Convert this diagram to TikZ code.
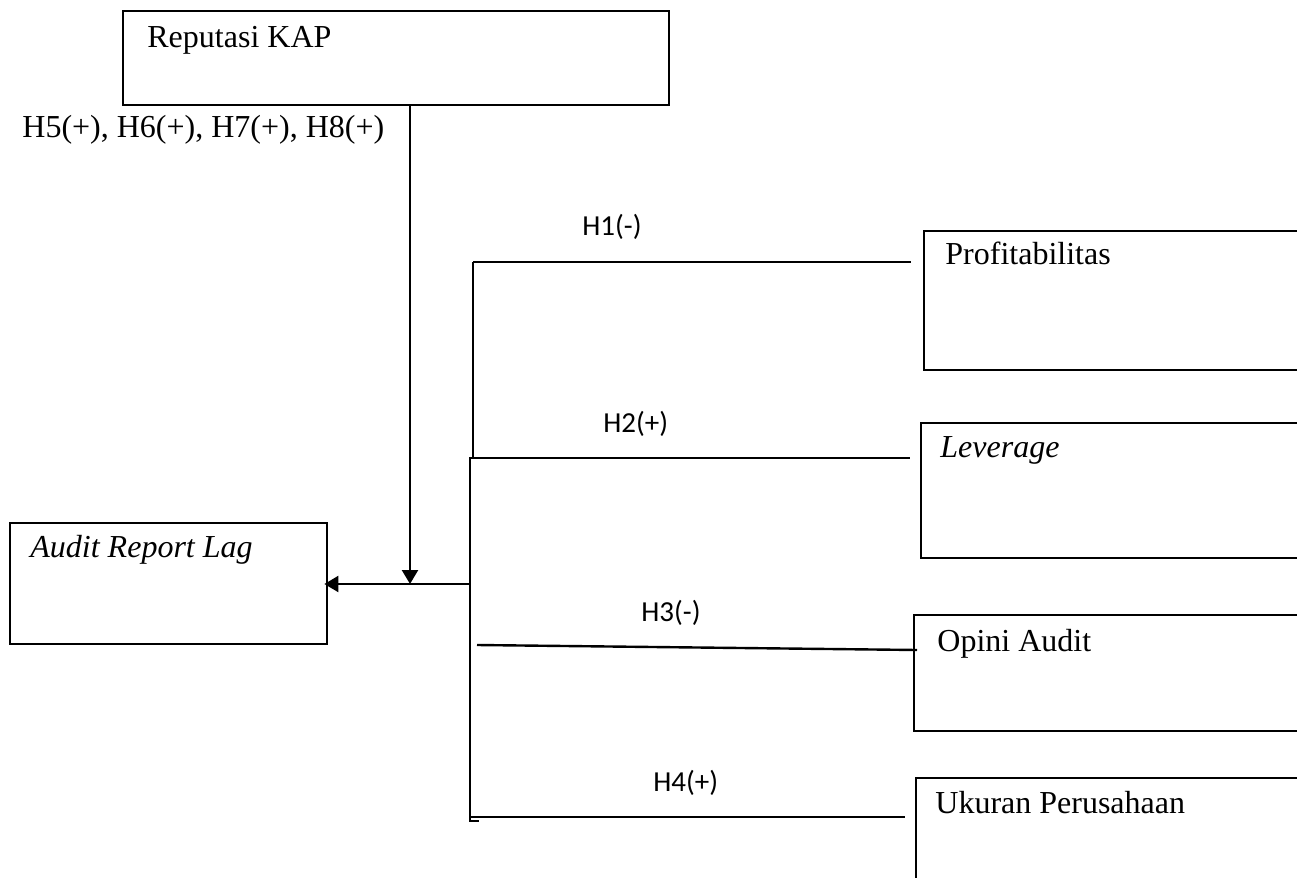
\documentclass[tikz,border=0pt]{standalone}
\usepackage{fontspec}
\setmainfont{Liberation Serif}
\newfontfamily\hipfont{Carlito}
\usetikzlibrary{arrows.meta,positioning}

\tikzset{
	kotak/.style={draw, line width=1.2pt, rectangle, anchor=north west, inner sep=0pt},
	teks/.style={anchor=base west, inner sep=0pt, font=\fontsize{16}{19}\selectfont},
	hip/.style={anchor=base west, inner sep=0pt, font=\hipfont\fontsize{14.5}{17}\selectfont},
	garis/.style={line width=1.2pt},
	panah/.style={line width=1.2pt, -{Triangle[width=8pt,length=7pt]}}
}

\begin{document}
\begin{tikzpicture}[x=0.5pt, y=-0.5pt] % 1 satuan = 1 piksel
	\useasboundingbox (0,0) rectangle (1297,878); % ukuran gambar
	\clip (0,0) rectangle (1297,878); % kotak kanan terpotong
		% Kotak variabel
	\node[kotak, minimum width=273pt, minimum height=47pt] (rep) at (122,10) {}; % moderasi
	\node[kotak, minimum width=158.5pt, minimum height=60.5pt] (arl) at (9,522) {}; % dependen
	\node[kotak, minimum width=193.5pt, minimum height=69.5pt] (prof) at (923,230) {};
	\node[kotak, minimum width=195pt, minimum height=67.5pt] (lev) at (920,422) {};
	\node[kotak, minimum width=198.5pt, minimum height=58pt] (opini) at (913,614) {};
	\node[kotak, minimum width=197.5pt, minimum height=56.5pt] (ukuran) at (915,777) {};
		% Nama variabel
	\node[teks] (t-rep) at ([shift={(25,37)}]rep.north west) {Reputasi KAP};
	\node[teks] (t-arl) at ([shift={(21,35)}]arl.north west) {\itshape Audit Report Lag};
	\node[teks] (t-prof) at ([shift={(22,34)}]prof.north west) {Profitabilitas};
	\node[teks] (t-lev) at ([shift={(20,35)}]lev.north west) {\itshape Leverage};
	\node[teks] (t-opini) at ([shift={(24,37)}]opini.north west) {Opini Audit};
	\node[teks] (t-ukuran) at ([shift={(20,36)}]ukuran.north west) {Ukuran Perusahaan};
		% Titik bantu garis
	\coordinate (b1) at (473,262);
	\coordinate (b2) at (473,458);
	\coordinate (b2b) at (470,458);
	\coordinate (b3) at (470,584);
	\coordinate (b4) at (470,817);
	\coordinate (b5) at (470,821);
	\coordinate (temu) at (410,584);
	\coordinate (h3a) at (477,645);
	\coordinate (h3b) at (917,650);
		% Garis hipotesis
	\draw[garis] (b1) -- (b2) -- (b2b) -- (b5) -- ++(9,0); % garis tegak
	\draw[garis, shorten >=6pt] (b1) -- (b1 -| prof.west);
	\draw[garis, shorten >=5pt] (b2) -- (b2 -| lev.west);
	\draw[garis] (h3a) -- (h3b);
	\draw[garis, shorten >=5pt] (b4) -- (b4 -| ukuran.west);
	\draw[panah] (temu |- rep.south) -- (temu); % moderasi
	\draw[panah, shorten >=-2pt] (b3) -- (b3 -| arl.east);
		% Label
	\node[hip] (h1) at (582,235) {H1(-)};
	\node[hip] (h2) at (603,432) {H2(+)};
	\node[hip] (h3) at (641,621) {H3(-)};
	\node[hip] (h4) at (653,791) {H4(+)};
	\node[teks] (h58) at (22,137) {H5(+), H6(+), H7(+), H8(+)};
\end{tikzpicture}
\end{document}
